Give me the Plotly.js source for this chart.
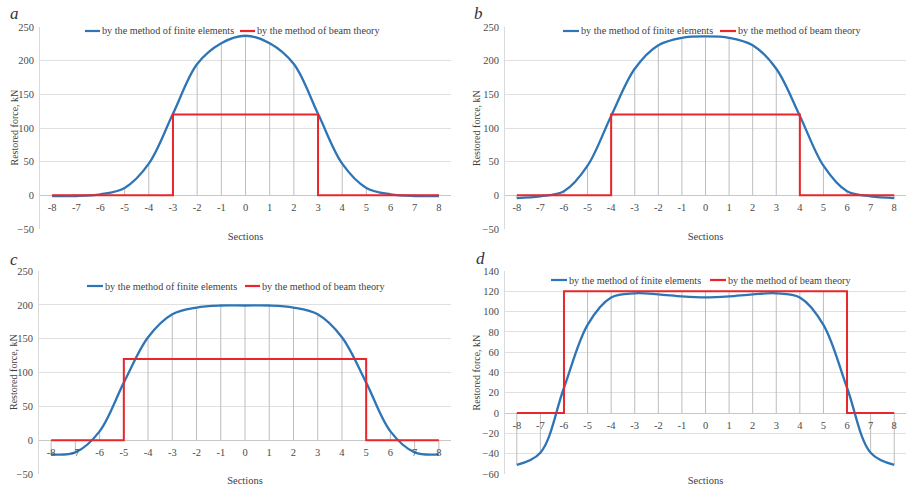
<!DOCTYPE html>
<html>
<head>
<meta charset="utf-8">
<script src="https://cdn.plot.ly/plotly-3.0.1.min.js"></script>
<style>
  html, body { margin: 0; padding: 0; background: #ffffff; }
  #chart { width: 912px; height: 486px; }
</style>
</head>
<body>
<div id="chart"></div>
<script>
// ---- data ----
const sections = [-8, -7, -6, -5, -4, -3, -2, -1, 0, 1, 2, 3, 4, 5, 6, 7, 8];
const tickLabels = ['-8', '-7', '-6', '-5', '-4', '-3', '-2', '-1', '0', '1', '2', '3', '4', '5', '6', '7', '8'];

// finite element method (blue)
const feA = [-1, -1, 1.5, 11, 47, 121, 195, 226, 237, 226, 195, 121, 47, 11, 1.5, -1, -1];
const feB = [-4, -1.5, 6, 44, 118, 188, 223, 234, 236, 234, 223, 188, 118, 44, 6, -1.5, -4];
const feC = [-21, -18, 13, 85, 152, 186, 196, 199, 199, 199, 196, 186, 152, 85, 13, -18, -21];
const feD = [-51, -39, 25, 87, 114, 118, 117, 115, 114, 115, 117, 118, 114, 87, 25, -39, -51];

// beam theory (red step): breakpoints
const beamXA = [-8, -3, -3, 3, 3, 8];
const beamXB = [-8, -4, -4, 4, 4, 8];
const beamXC = [-8, -5, -5, 5, 5, 8];
const beamXD = [-8, -6, -6, 6, 6, 8];
const beamY  = [0, 0, 120, 120, 0, 0];

const panelLetters = ['a', 'b', 'c', 'd'];
const legendNames = ['by the method of finite elements', 'by the method of beam theory'];
const yTitle = 'Restored force, kN';
const xTitle = 'Sections';

// ---- styling / layout ----
const W = 912, H = 486;
const FONT = 'Liberation Serif';
const BLUE = '#2e75b6', RED = '#e8262b';
const GRID = '#e0e0e0', DROP = '#bdbdbd', TXT = '#4a4a4a';

// legend entry positions (px): [glyphStart, textStart] for each item, and y
const panels = [
  {fe: feA, bx: beamXA, px: [40, 451], py: [27, 229], yr: [-50, 250], dt: 50, leg: [[85, 101], [240, 256]], legY: 31, lab: [14, 14], yt: 13.5, xStand: 20},
  {fe: feB, bx: beamXB, px: [505, 906], py: [27, 229], yr: [-50, 250], dt: 50, leg: [[563, 580], [720, 737]], legY: 31, lab: [478, 14], yt: 476, xStand: 20},
  {fe: feC, bx: beamXC, px: [39, 451], py: [271, 474], yr: [-50, 250], dt: 50, leg: [[87, 104], [245, 261]], legY: 286, lab: [14, 259], yt: 13.5, xStand: 20},
  {fe: feD, bx: beamXD, px: [505, 906], py: [271, 474], yr: [-60, 140], dt: 20, leg: [[551, 568], [710, 727]], legY: 280, lab: [480, 258], yt: 476, xStand: 49}
];

function beamAt(bx, x) {
  let v = -Infinity;
  for (let i = 0; i < bx.length - 1; i++) {
    const x0 = bx[i], x1 = bx[i + 1];
    if (x >= Math.min(x0, x1) && x <= Math.max(x0, x1)) {
      v = Math.max(v, beamY[i], beamY[i + 1]);
    }
  }
  return v === -Infinity ? 0 : v;
}

const data = [];
const layout = {
  width: W, height: H,
  margin: {l: 0, r: 0, t: 0, b: 0},
  paper_bgcolor: '#ffffff', plot_bgcolor: '#ffffff',
  font: {family: FONT, size: 10, color: TXT},
  showlegend: false,
  annotations: [],
  shapes: []
};

panels.forEach((p, i) => {
  const n = i === 0 ? '' : String(i + 1);
  const xa = 'x' + n, ya = 'y' + n;
  const ydom = [1 - p.py[1] / H, 1 - p.py[0] / H];
  const xdom = [p.px[0] / W, p.px[1] / W];
  const zeroFrac = ydom[0] + (ydom[1] - ydom[0]) * (0 - p.yr[0]) / (p.yr[1] - p.yr[0]);

  // drop lines spanning all series values at each section down/up to the axis
  const dx = [], dy = [];
  sections.forEach((s, k) => {
    const vals = [p.fe[k], beamAt(p.bx, s), 0];
    dx.push(s, s, null);
    dy.push(Math.min(...vals), Math.max(...vals), null);
  });
  data.push({x: dx, y: dy, xaxis: xa, yaxis: ya, mode: 'lines', type: 'scatter',
    line: {color: DROP, width: 1}, showlegend: false, hoverinfo: 'skip'});

  data.push({x: sections, y: p.fe, xaxis: xa, yaxis: ya, mode: 'lines', type: 'scatter',
    name: legendNames[0], line: {color: BLUE, width: 2.3, shape: 'spline', smoothing: 1}});
  data.push({x: p.bx, y: beamY, xaxis: xa, yaxis: ya, mode: 'lines', type: 'scatter',
    name: legendNames[1], line: {color: RED, width: 2}});

  layout['xaxis' + n] = {
    domain: xdom, range: [-8.5, 8.5], anchor: 'free', position: zeroFrac,
    tickmode: 'array', tickvals: sections, ticktext: tickLabels,
    ticks: '', ticklabelstandoff: 4, showgrid: false, zeroline: false, showline: false,
    tickfont: {family: FONT, size: 10.5, color: TXT},
    title: {text: xTitle, font: {family: FONT, size: 10.5, color: '#404040'}, standoff: p.xStand},
    automargin: false, fixedrange: true
  };
  layout['yaxis' + n] = {
    domain: ydom, range: p.yr, anchor: xa, dtick: p.dt, tick0: 0,
    ticks: '', ticklabelstandoff: 3, showgrid: true, gridcolor: GRID, gridwidth: 1,
    zeroline: true, zerolinecolor: '#c8c8c8', zerolinewidth: 1,
    showline: true, linecolor: '#d9d9d9', linewidth: 1,
    tickfont: {family: FONT, size: 10.5, color: TXT},
    automargin: false, fixedrange: true
  };

  // y-axis title placed beside the tick labels
  layout.annotations.push({text: yTitle, xref: 'paper', yref: 'paper',
    x: p.yt / W, y: (ydom[0] + ydom[1]) / 2, xanchor: 'center', yanchor: 'middle',
    textangle: -90, showarrow: false, font: {family: FONT, size: 10, color: '#404040'}});

  // legend: short line glyph + label, per panel
  const legColors = [BLUE, RED];
  p.leg.forEach((e, k) => {
    const yy = 1 - p.legY / H;
    layout.shapes.push({type: 'line', xref: 'paper', yref: 'paper',
      x0: e[0] / W, x1: (e[1] - 1) / W, y0: yy, y1: yy,
      line: {color: legColors[k], width: 2.2}});
    layout.annotations.push({text: legendNames[k], xref: 'paper', yref: 'paper',
      x: e[1] / W, y: yy, xanchor: 'left', yanchor: 'middle', showarrow: false,
      xshift: -1, font: {family: FONT, size: 10.2, color: '#404040'}});
  });

  layout.annotations.push({
    text: '<i>' + panelLetters[i] + '</i>', xref: 'paper', yref: 'paper',
    x: p.lab[0] / W, y: 1 - p.lab[1] / H, xanchor: 'center', yanchor: 'middle',
    showarrow: false, font: {family: FONT, size: 17, color: '#333333'}
  });
});

Plotly.newPlot('chart', data, layout, {displayModeBar: false, staticPlot: true});
</script>
</body>
</html>
